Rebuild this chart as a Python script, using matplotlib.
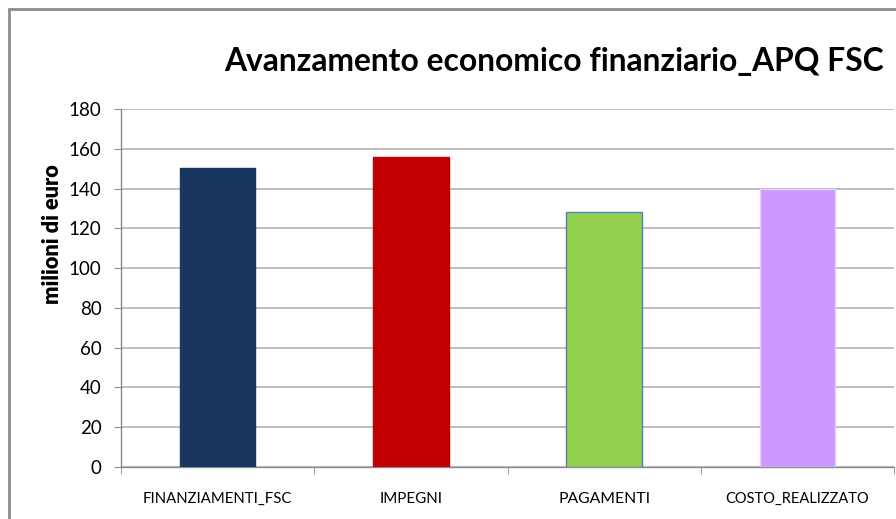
import numpy as np
import matplotlib.pyplot as plt
from matplotlib.patches import Rectangle

# ── Dati (milioni di euro) ────────────────────────────────────────────────────
categorie = ['FINANZIAMENTI_FSC', 'IMPEGNI', 'PAGAMENTI', 'COSTO_REALIZZATO']
valori    = [150.3, 155.7, 128.4, 139.8]
colori    = ['#17375E', '#C00000', '#92D050', '#CC99FF']
bordi     = ['#17375E', '#C00000', '#4F81BD', '#E6CCFF']
y_ticks   = [0, 20, 40, 60, 80, 100, 120, 140, 160, 180]

plt.rcParams['font.family'] = ['Lato', 'DejaVu Sans']

fig = plt.figure(figsize=(8.96, 5.19), dpi=100)
renderer = fig.canvas.get_renderer()


def fit_width(txt, target_px, horizontal=True):
    # riduce/ingrandisce il testo fino alla dimensione voluta
    for _ in range(3):
        bb = txt.get_window_extent(renderer=renderer)
        cur = bb.width if horizontal else bb.height
        txt.set_fontsize(txt.get_fontsize() * target_px / cur)


# cornice esterna del grafico (tagliata a destra e in basso)
fig.patches.append(Rectangle((8.5 / 896, -0.1), 1.2, 1.1 - 8.5 / 519,
                             transform=fig.transFigure, fill=False,
                             edgecolor='#8C8C8C', linewidth=2.0))

ax = fig.add_axes([121 / 896, 52 / 519, 773 / 896, 358 / 519])

x = np.arange(len(categorie))
ax.bar(x, valori, width=0.39, color=colori, edgecolor=bordi, linewidth=1.0, zorder=3)

ax.set_xlim(-0.5, len(categorie) - 0.5)
ax.set_ylim(0, 180)
ax.set_yticks(y_ticks)
ax.yaxis.grid(True, color='#B3B3B3', linewidth=1.2, zorder=0)

for s in ['top', 'right']:
    ax.spines[s].set_visible(False)
for s in ['left', 'bottom']:
    ax.spines[s].set_color('#8C8C8C')
    ax.spines[s].set_linewidth(1.0)

ax.set_xticks(x)
ax.set_xticklabels(categorie, fontsize=11)
ax.set_xticks(np.arange(-0.5, len(categorie)), minor=True)
ax.tick_params(axis='x', which='major', length=0, pad=18)
ax.tick_params(axis='x', which='minor', length=5, color='#8C8C8C', direction='out')
ax.tick_params(axis='y', length=5, color='#8C8C8C', labelsize=13.5, pad=9)

ylab = ax.text(-0.088, 0.65, 'milioni di euro', transform=ax.transAxes, rotation=90,
               ha='center', va='center', fontsize=13, fontweight='heavy')
fit_width(ylab, 140, horizontal=False)

titolo = fig.text(554 / 896, 1 - 62 / 519, 'Avanzamento economico finanziario_APQ FSC',
                  ha='center', va='center', fontsize=26, fontweight='bold')
fit_width(titolo, 658)

# larghezze delle etichette dell'asse x come nel riferimento
fig.canvas.draw()
for lab, w in zip(ax.get_xticklabels(), [149, 63, 92, 143]):
    fit_width(lab, w)

plt.savefig('out.png', dpi=100)
